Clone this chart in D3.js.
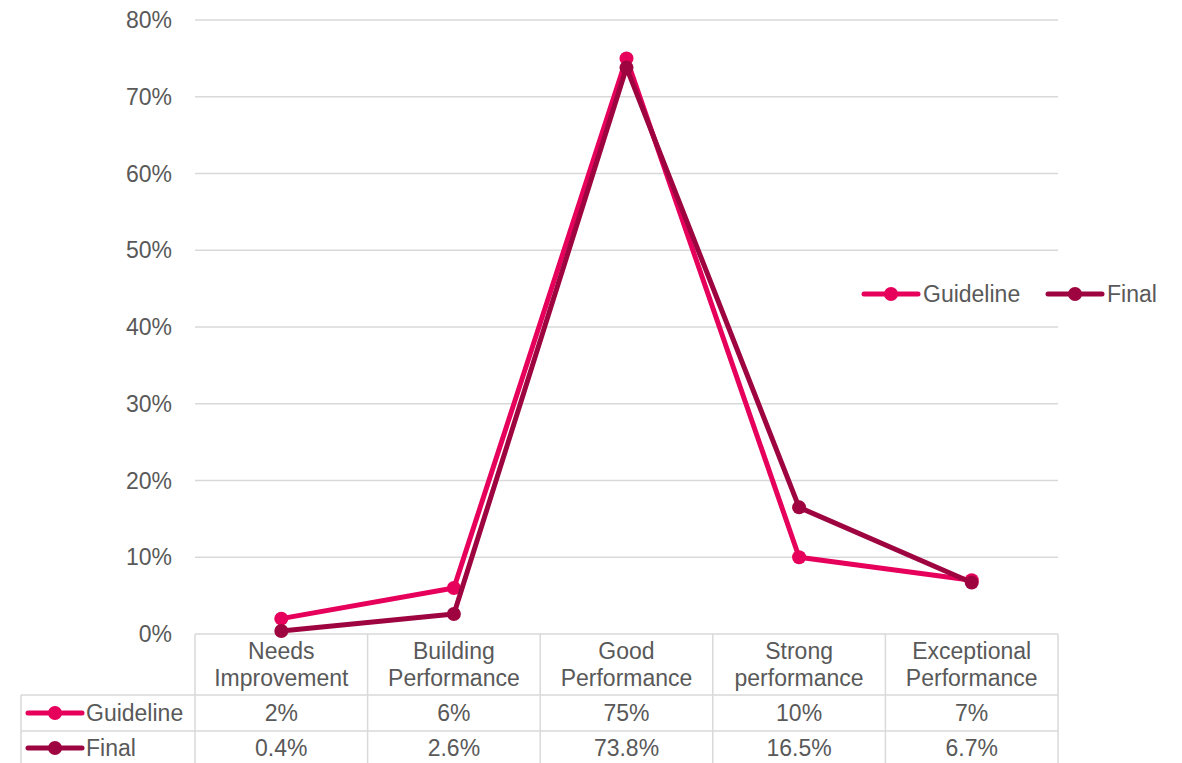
<!DOCTYPE html>
<html>
<head>
<meta charset="utf-8">
<script src="https://cdn.jsdelivr.net/npm/d3@7"></script>
<style>
  body { margin: 0; background: #fff; }
  svg text { font-family: "Liberation Sans", Arial, sans-serif; fill: #595959; }
</style>
</head>
<body>
<svg id="chart" width="1182" height="763"></svg>
<script>
var categories = [["Needs", "Improvement"], ["Building", "Performance"], ["Good", "Performance"], ["Strong", "performance"], ["Exceptional", "Performance"]];
var guideline = [2, 6, 75, 10, 7];
var finalVals = [0.4, 2.6, 73.8, 16.5, 6.7];
var guidelineLabels = ["2%", "6%", "75%", "10%", "7%"];
var finalLabels = ["0.4%", "2.6%", "73.8%", "16.5%", "6.7%"];
var yTicks = [0, 10, 20, 30, 40, 50, 60, 70, 80];

var series = [
  { name: "Guideline", values: guideline, labels: guidelineLabels, color: "#e6005c" },
  { name: "Final", values: finalVals, labels: finalLabels, color: "#9e0540" }
];

(function () {
  'use strict';
  var svg = d3.select("#chart");
  var plotLeft = 195, plotRight = 1058, plotTop = 20, plotBottom = 634;
  var gridColor = "#d9d9d9";
  var fontSize = "23px";

  var x = d3.scaleBand().domain(d3.range(categories.length)).range([plotLeft, plotRight]);
  var y = d3.scaleLinear().domain([0, 80]).range([plotBottom, plotTop]);
  function cx(d, i) { return x(i) + x.bandwidth() / 2; }

  // gridlines
  svg.selectAll(".grid").data(yTicks).enter().append("line")
    .attr("x1", plotLeft).attr("x2", plotRight)
    .attr("y1", function (d) { return y(d); }).attr("y2", function (d) { return y(d); })
    .attr("stroke", gridColor).attr("stroke-width", 1.5);

  svg.selectAll(".ytick").data(yTicks).enter().append("text")
    .attr("x", 172).attr("y", function (d) { return y(d); })
    .attr("dy", "0.35em").attr("text-anchor", "end")
    .style("font-size", fontSize)
    .text(function (d) { return d + "%"; });

  // data table
  var row1 = 695, row2 = 731, tBottom = 766;
  var tbl = svg.append("g").attr("stroke", gridColor).attr("stroke-width", 1.5);
  x.domain().concat([categories.length]).forEach(function (i) {
    var xx = i < categories.length ? x(i) : plotRight;
    tbl.append("line").attr("x1", xx).attr("x2", xx).attr("y1", plotBottom).attr("y2", tBottom);
  });
  tbl.append("line").attr("x1", 21).attr("x2", 21).attr("y1", row1).attr("y2", tBottom);
  [row1, row2].forEach(function (r) {
    tbl.append("line").attr("x1", 21).attr("x2", plotRight).attr("y1", r).attr("y2", r);
  });

  var cat = svg.selectAll(".cat").data(categories).enter().append("text")
    .attr("text-anchor", "middle").style("font-size", fontSize);
  cat.append("tspan").attr("x", cx).attr("y", 659).text(function (d) { return d[0]; });
  cat.append("tspan").attr("x", cx).attr("y", 686).text(function (d) { return d[1]; });

  function legendKey(g, kx, ky, color) {
    g.append("line").attr("x1", kx - 27).attr("x2", kx + 27).attr("y1", ky).attr("y2", ky)
      .attr("stroke", color).attr("stroke-width", 5).attr("stroke-linecap", "round");
    g.append("circle").attr("cx", kx).attr("cy", ky).attr("r", 7).attr("fill", color);
  }

  series.forEach(function (s, k) {
    var ry = k === 0 ? 713 : 748;
    legendKey(svg, 55, ry, s.color);
    svg.append("text").attr("x", 86).attr("y", ry).attr("dy", "0.35em")
      .style("font-size", fontSize).text(s.name);
    svg.selectAll(".val" + k).data(s.labels).enter().append("text")
      .attr("x", cx).attr("y", ry).attr("dy", "0.35em").attr("text-anchor", "middle")
      .style("font-size", fontSize).text(function (d) { return d; });
  });

  // lines
  var line = d3.line().x(cx).y(function (d) { return y(d); });

  series.forEach(function (s) {
    var g = svg.append("g");
    g.append("path").datum(s.values).attr("d", line)
      .attr("fill", "none").attr("stroke", s.color).attr("stroke-width", 5)
      .attr("stroke-linejoin", "round").attr("stroke-linecap", "round");
    g.selectAll("circle").data(s.values).enter().append("circle")
      .attr("cx", cx).attr("cy", function (d) { return y(d); })
      .attr("r", 7).attr("fill", s.color);
  });

  // legend
  var legendPos = [891, 1075];
  series.forEach(function (s, k) {
    legendKey(svg, legendPos[k], 294, s.color);
    svg.append("text").attr("x", legendPos[k] + 32).attr("y", 294).attr("dy", "0.35em")
      .style("font-size", fontSize).text(s.name);
  });
})();
</script>
</body>
</html>
